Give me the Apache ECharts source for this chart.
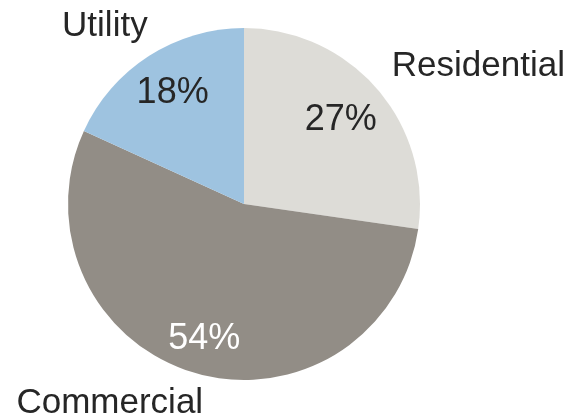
<!DOCTYPE html>
<html>
<head>
<meta charset="utf-8">
<style>
  html, body { margin: 0; padding: 0; background: #ffffff; }
  #chart { width: 574px; height: 420px; }
</style>
<script src="https://cdn.jsdelivr.net/npm/echarts@6/dist/echarts.min.js"></script>
</head>
<body>
<div id="chart"></div>
<script>
// Market segments and their share of installations (%)
const categories = ['Residential', 'Commercial', 'Utility'];
const shares = [27, 54, 18];

// Slice fills and percentage label ink
const sliceColors = ['#dddcd7', '#928d86', '#9ec3e0'];
const percentInk = ['#262626', '#ffffff', '#262626'];

// Segment name placement: [angle from 12 o'clock (deg, clockwise), distance from centre (px)]
const namePolar = [[59.5, 272], [214, 240], [-38, 226]];
// Distance of each percentage label from the centre along its slice's mid-angle (px)
const percentRadius = [128, 141, 132];

const CX = 244, CY = 204, R = 176;
const FONT = '"Liberation Sans", Arial, sans-serif';

// mid-angle of each slice, measured clockwise from 12 o'clock
const total = shares.reduce((s, v) => s + v, 0);
const midAngles = [];
shares.reduce((acc, v) => {
  midAngles.push((acc + v / 2) / total * 2 * Math.PI);
  return acc + v;
}, 0);

function polarPoint(angleRad, dist) {
  return { x: CX + dist * Math.sin(angleRad), y: CY - dist * Math.cos(angleRad) };
}

const chart = echarts.init(document.getElementById('chart'), null, { renderer: 'canvas' });

const option = {
  animation: false,
  backgroundColor: '#ffffff',
  series: [
    {
      // the pie itself, carrying the segment names
      type: 'pie',
      center: [CX, CY],
      radius: R,
      startAngle: 90,
      clockwise: true,
      silent: true,
      itemStyle: { borderWidth: 0 },
      data: categories.map((name, i) => ({
        name: name,
        value: shares[i],
        itemStyle: { color: sliceColors[i] }
      })),
      label: {
        show: true,
        position: 'inside',
        overflow: 'none',
        formatter: '{b}',
        fontFamily: FONT,
        fontSize: 35,
        color: '#262626'
      },
      labelLine: { show: false },
      labelLayout: function (params) {
        const p = namePolar[params.dataIndex];
        const pt = polarPoint(p[0] * Math.PI / 180, p[1]);
        return { x: pt.x, y: pt.y, align: 'center', verticalAlign: 'middle' };
      }
    },
    {
      // percentage labels sitting inside each slice
      type: 'pie',
      center: [CX, CY],
      radius: R,
      startAngle: 90,
      clockwise: true,
      silent: true,
      itemStyle: { color: 'rgba(0,0,0,0)', borderWidth: 0 },
      data: categories.map((name, i) => ({
        name: name,
        value: shares[i],
        label: { color: percentInk[i] }
      })),
      label: {
        show: true,
        position: 'inside',
        overflow: 'none',
        formatter: '{c}%',
        fontFamily: FONT,
        fontSize: 36
      },
      labelLine: { show: false },
      labelLayout: function (params) {
        const i = params.dataIndex;
        const pt = polarPoint(midAngles[i], percentRadius[i]);
        return { x: pt.x, y: pt.y, align: 'center', verticalAlign: 'middle' };
      }
    }
  ]
};

chart.setOption(option);
</script>
</body>
</html>
